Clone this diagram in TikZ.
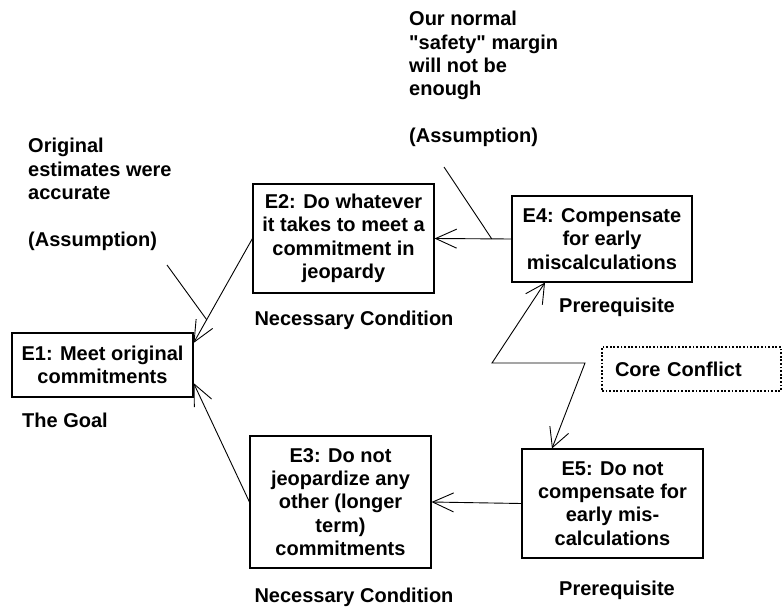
\documentclass[tikz,border=0pt]{standalone}
\usepackage{fontspec}
\setmainfont{Liberation Sans}
\usetikzlibrary{arrows.meta}
\newcommand\straightdq{\XeTeXglyph\XeTeXcharglyph34\relax}
\begin{document}
\begin{tikzpicture}[x=1pt,y=-1pt,
  every node/.style={font=\fontsize{20}{23.4}\selectfont\bfseries, inner sep=0pt},
  ebox/.style={draw, line width=1.1pt, align=center, minimum width=181pt},
  lbl/.style={align=center},
  asm/.style={align=left, anchor=north west},
  conn/.style={line width=0.9pt},
  arr/.style={conn, -{Straight Barb[length=21pt,width=19pt,line width=0.9pt]}},
  darr/.style={conn, {Straight Barb[length=19pt,width=20pt,line width=0.9pt]}-{Straight Barb[length=19pt,width=20pt,line width=0.9pt]}},
  ccbox/.style={draw, line width=1.8pt, dash pattern=on 1.8pt off 1.8pt, align=left, text width=153pt, inner xsep=13pt, minimum height=44pt}
]
\useasboundingbox (0,0) rectangle (782,610);

% boxes
\node[ebox, minimum height=64pt] (E1) at (102.5,365) {E1: Meet original\\commitments};
\node[ebox, minimum height=109pt] (E2) at (343.5,238.5) {E2: Do whatever\\it takes to meet a\\commitment in\\jeopardy};
\node[ebox, minimum height=132pt] (E3) at (340.5,502) {E3: Do not\\jeopardize any\\other (longer\\term)\\commitments};
\node[ebox, minimum width=180pt, minimum height=86pt] (E4) at (602,239) {E4: Compensate\\for early\\miscalculations};
\node[ebox, minimum height=109pt] (E5) at (612.5,503.5) {E5: Do not\\compensate for\\early mis-\\calculations};

% labels
\node[anchor=west] (goal) at (22,420) {The Goal};
\node[lbl] (nc1) at (354,320) {Necessary Condition};
\node[lbl] (nc2) at (354,597) {Necessary Condition};
\node[lbl] (pr1) at (617,307) {Prerequisite};
\node[lbl] (pr2) at (617,590) {Prerequisite};
\node[ccbox] (cc) at (691.5,369) {Core Conflict};

% assumptions
\node[asm] (as1) at (28,138) {Original\\estimates were\\accurate\\[23.4pt](Assumption)};
\node[asm] (as2) at (409,11) {Our normal\\\straightdq safety\straightdq{} margin\\will not be\\enough\\[23.4pt](Assumption)};

% connectors
\draw[arr] (E2.west) -- coordinate[pos=0.777] (j1) ([yshift=22pt]E1.east);
\draw[arr] (E3.west) -- ([yshift=-18pt]E1.east);
\draw[arr] (E4.west) -- coordinate[pos=0.256] (j2) (E2.east);
\draw[arr] (E5.west) -- (E3.east);

\coordinate (s1) at (167,265);
\coordinate (s2) at (444,167);
\draw[conn] (s1) -- (j1);
\draw[conn] (s2) -- (j2);

% core conflict zigzag
\coordinate (z1) at (492,363);
\coordinate (z2) at (585,363);
\draw[darr] ([xshift=-57pt]E4.south) -- (z1) -- (z2) -- ([xshift=-60.5pt]E5.north);
\end{tikzpicture}
\end{document}
